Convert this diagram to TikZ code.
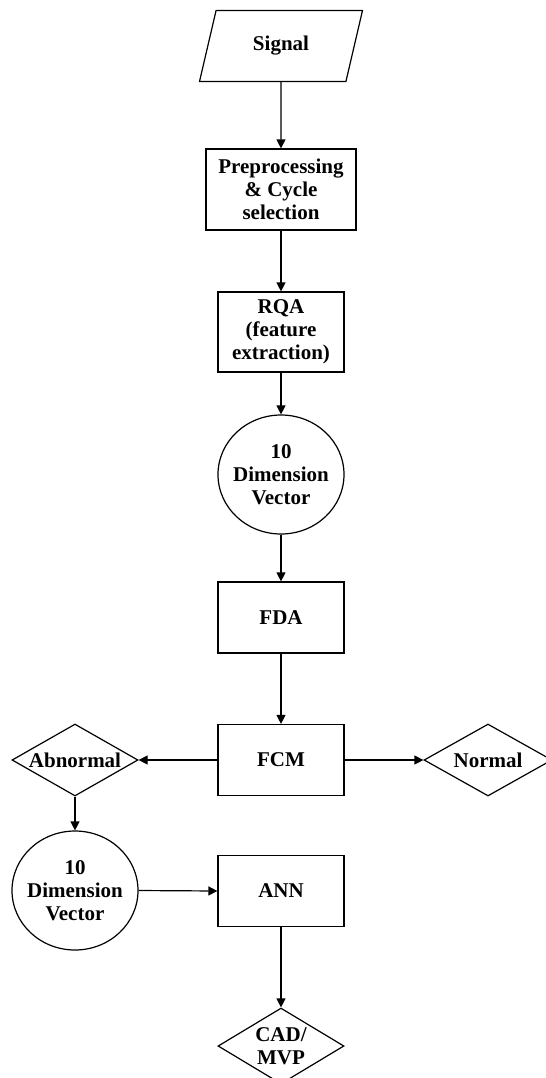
\documentclass[tikz,border=0pt]{standalone}
\usepackage{fontspec}
\setmainfont{Liberation Serif}
\usetikzlibrary{shapes.geometric,arrows.meta}

\begin{document}
\begin{tikzpicture}[x=0.5pt,y=-0.5pt,
  every node/.style={font=\bfseries\fontsize{10.5}{11.5}\selectfont, align=center, line width=0.6pt},
  procbox/.style={draw, minimum width=63pt, minimum height=35.5pt},
  vecball/.style={draw, ellipse, minimum width=63pt, minimum height=59.5pt, inner xsep=-2pt, inner ysep=0pt},
  choice/.style={draw, diamond, aspect=1.75, minimum width=63pt, minimum height=36pt, inner sep=0pt},
  link/.style={-{Triangle[length=4.5pt,width=4.5pt]}, line width=0.6pt}]
\useasboundingbox (0,0) rectangle (546,1078);

% main column
\node[draw, trapezium, trapezium left angle=63, trapezium right angle=117, trapezium stretches body, minimum width=81.5pt, minimum height=35.5pt] (signal) at (281,46) {Signal};
\node[procbox, minimum width=75pt, minimum height=40.5pt] (prep) at (281,189.5) {Preprocessing\\\& Cycle\\selection};
\node[procbox, minimum height=40pt] (rqa) at (281,332) {RQA\\(feature\\extraction)};
\node[vecball] (vec1) at (281,474.5) {10\\Dimension\\Vector};
\node[procbox] (fda) at (281,617.5) {FDA};
\node[procbox] (fcm) at (281,760) {FCM};
\node[procbox] (ann) at (281,891) {ANN};
\node[choice, minimum height=38pt] (cad) at (281,1046) {CAD/\\MVP};

% side branches
\node[choice] (abn) at (75,760) {Abnormal};
\node[choice, minimum width=64pt] (nor) at (488,760) {Normal};
\node[vecball] (vec2) at (75,890.5) {10\\Dimension\\Vector};

\draw[link] (signal) -- (prep);
\draw[link] (prep) -- (rqa);
\draw[link] (rqa) -- (vec1);
\draw[link] (vec1) -- (fda);
\draw[link] (fda) -- (fcm);
\draw[link] (fcm.west) -- (abn.east);
\draw[link] (fcm.east) -- (nor.west);
\draw[link] (abn) -- (vec2);
\draw[link] (vec2.east) -- (ann.west);
\draw[link] (ann) -- (cad);
\end{tikzpicture}
\end{document}
